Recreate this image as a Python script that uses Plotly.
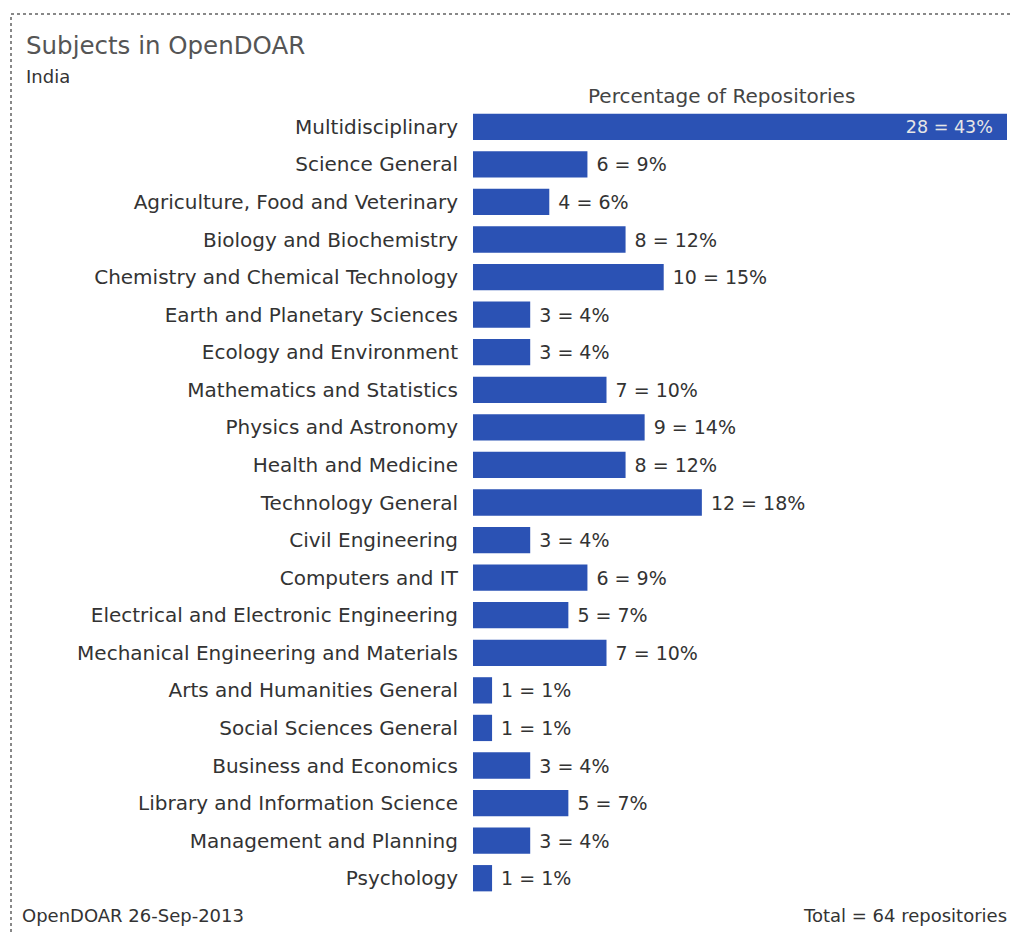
import plotly.graph_objects as go

categories = [
    "Multidisciplinary", "Science General", "Agriculture, Food and Veterinary",
    "Biology and Biochemistry", "Chemistry and Chemical Technology",
    "Earth and Planetary Sciences", "Ecology and Environment",
    "Mathematics and Statistics", "Physics and Astronomy", "Health and Medicine",
    "Technology General", "Civil Engineering", "Computers and IT",
    "Electrical and Electronic Engineering", "Mechanical Engineering and Materials",
    "Arts and Humanities General", "Social Sciences General",
    "Business and Economics", "Library and Information Science",
    "Management and Planning", "Psychology",
]
counts = [28, 6, 4, 8, 10, 3, 3, 7, 9, 8, 12, 3, 6, 5, 7, 1, 1, 3, 5, 3, 1]
percents = [43, 9, 6, 12, 15, 4, 4, 10, 14, 12, 18, 4, 9, 7, 10, 1, 1, 4, 7, 4, 1]
total = 64

NBSP = "\u00a0"
labels = [f"{c} = {p}%" + NBSP * 2 if c == max(counts)
          else NBSP + f"{c} = {p}%" for c, p in zip(counts, percents)]
positions = ["inside" if c == max(counts) else "outside" for c in counts]
text_colors = ["#e6e6e6" if c == max(counts) else "#333333" for c in counts]

FONT = "DejaVu Sans, sans-serif"

W, H = 1010, 932
ML, MR, MT, MB = 473, 3, 108, 35
pw, ph = W - ML - MR, H - MT - MB

def px(x):
    return (x - ML) / pw

def py(y):
    return (H - MB - y) / ph

fig = go.Figure(go.Bar(
    x=counts, y=categories, orientation="h",
    marker=dict(color="#2b52b4", line=dict(width=0)),
    text=labels, textposition=positions,
    insidetextanchor="end",
    textfont=dict(family=FONT, size=19, color=text_colors),
    cliponaxis=False,
    width=0.7,
))

fig.update_layout(
    width=W, height=H,
    margin=dict(l=ML, r=MR, t=MT, b=MB),
    paper_bgcolor="white", plot_bgcolor="white",
    showlegend=False,
    uniformtext=dict(mode=False),
    xaxis=dict(range=[0, max(counts)], visible=False, fixedrange=True),
    yaxis=dict(
        autorange="reversed", showgrid=False, zeroline=False, showline=False,
        ticks="outside", ticklen=10, tickcolor="rgba(0,0,0,0)",
        tickfont=dict(family=FONT, size=20, color="#333333"),
    ),
    font=dict(family=FONT),
)

fig.add_shape(type="rect", xref="paper", yref="paper",
              x0=px(11), x1=px(1013), y0=py(935), y1=py(14),
              line=dict(color="#888888", width=2, dash="dot"),
              fillcolor="rgba(0,0,0,0)", layer="below")

fig.add_annotation(text="Subjects in OpenDOAR", xref="paper", yref="paper",
                   x=px(24), y=py(46), xanchor="left", yanchor="middle",
                   showarrow=False, font=dict(family=FONT, size=24.5, color="#555555"))
fig.add_annotation(text="India", xref="paper", yref="paper",
                   x=px(24), y=py(76), xanchor="left", yanchor="middle",
                   showarrow=False, font=dict(family=FONT, size=18, color="#333333"))
fig.add_annotation(text="Percentage of Repositories", xref="paper", yref="paper",
                   x=px(721), y=py(96), xanchor="center", yanchor="middle",
                   showarrow=False, font=dict(family=FONT, size=20, color="#444444"))
fig.add_annotation(text="OpenDOAR 26-Sep-2013", xref="paper", yref="paper",
                   x=px(20), y=py(915), xanchor="left", yanchor="middle",
                   showarrow=False, font=dict(family=FONT, size=18, color="#333333"))
fig.add_annotation(text=f"Total = {total} repositories", xref="paper", yref="paper",
                   x=px(1009), y=py(915), xanchor="right", yanchor="middle",
                   showarrow=False, font=dict(family=FONT, size=18, color="#333333"))

fig.write_html("out.html")
